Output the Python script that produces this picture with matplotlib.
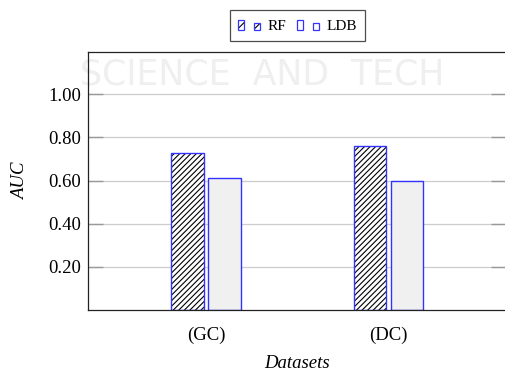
import matplotlib.pyplot as plt
import matplotlib.patches as mpatches
from matplotlib.legend_handler import HandlerBase

datasets = ["(GC)", "(DC)"]
rf_auc = [0.73, 0.76]
ldb_auc = [0.61, 0.60]
yticks = [0.2, 0.4, 0.6, 0.8, 1.0]

plt.rcParams['font.family'] = ['Liberation Serif', 'DejaVu Serif']
plt.rcParams['hatch.linewidth'] = 0.8

BLUE = '#3333ff'


class TwoBarHandler(HandlerBase):
    # small pair of bars like the pgfplots ybar legend image
    def create_artists(self, legend, orig_handle, xdescent, ydescent,
                       width, height, fontsize, trans):
        w = width * 0.27
        arts = []
        for x0, h in [(0, height * 0.9), (width * 0.73, height * 0.62)]:
            if orig_handle.get_hatch():
                arts.append(mpatches.Rectangle((x0 - xdescent, -ydescent), w, h,
                                               facecolor='white', edgecolor='black',
                                               hatch=orig_handle.get_hatch(),
                                               linewidth=0, transform=trans))
            arts.append(mpatches.Rectangle((x0 - xdescent, -ydescent), w, h,
                                           facecolor='none', edgecolor=BLUE,
                                           linewidth=0.9, transform=trans))
        return arts


fig = plt.figure(figsize=(5.05, 3.72), dpi=100)
ax = fig.add_axes([0.1743, 0.1667, 0.8277, 0.6935])

# faint watermark behind everything
fig.text(0.52, 0.8, "SCIENCE  AND  TECH", fontsize=25, color='#efefef',
         family='DejaVu Sans', ha='center', va='center', zorder=-5)

x = range(len(datasets))
off = 0.1016
bw = 0.176
ax.bar([i - off for i in x], rf_auc, bw, facecolor='white', edgecolor='black',
       hatch='//////', linewidth=0, zorder=3)
ax.bar([i - off for i in x], rf_auc, bw, facecolor='none', edgecolor=BLUE,
       linewidth=1.0, label='RF', zorder=4)
ax.bar([i + off for i in x], ldb_auc, bw, facecolor='#f0f0f0', edgecolor=BLUE,
       linewidth=1.0, label='LDB', zorder=4)

ax.set_xlim(-0.648, 1.648)
ax.set_ylim(0, 1.196)
ax.set_xticks(list(x))
ax.set_xticklabels(datasets, fontsize=13.5)
ax.set_yticks(yticks)
ax.set_yticklabels([f"{v:.2f}" for v in yticks], fontsize=13.5)
ax.tick_params(axis='x', length=0, pad=12)
ax.tick_params(axis='y', direction='in', length=11, color='#999999', width=1,
               right=True, pad=5)
ax.grid(axis='y', color='#cccccc', linewidth=0.9, zorder=0)
ax.set_axisbelow(True)
for s in ax.spines.values():
    s.set_linewidth(0.9)
    s.set_color('#222222')
    s.set_zorder(5)
ax.patch.set_alpha(0)

ax.set_xlabel("Datasets", fontsize=13.5, style='italic', labelpad=8)
ax.set_ylabel("AUC", fontsize=13.5, style='italic', labelpad=14)

h1 = mpatches.Patch(facecolor='white', edgecolor=BLUE, hatch='////')
h2 = mpatches.Patch(facecolor='white', edgecolor=BLUE)
leg = fig.legend([h1, h2], ['RF', 'LDB'], loc='center', bbox_to_anchor=(0.589, 0.931),
                 ncol=2, fontsize=11, frameon=True, fancybox=False,
                 handler_map={mpatches.Patch: TwoBarHandler()},
                 handlelength=1.44, handletextpad=0.45, columnspacing=0.75,
                 borderpad=0.55, borderaxespad=0)
leg.get_frame().set_edgecolor('#222222')
leg.get_frame().set_linewidth(0.9)

fig.savefig("out.png", dpi=100)
